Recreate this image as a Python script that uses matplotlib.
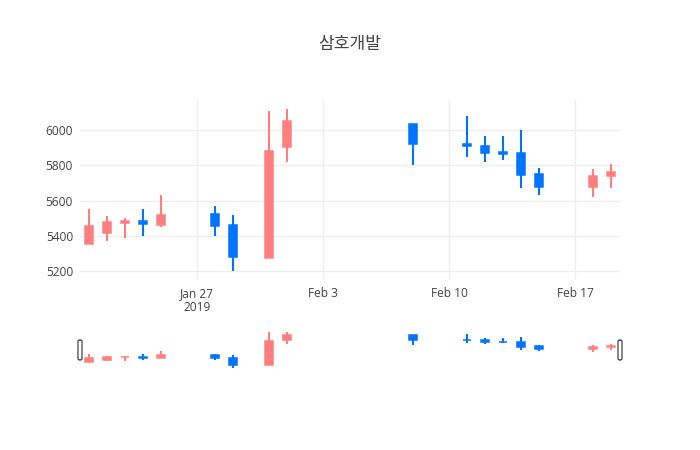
import matplotlib
matplotlib.use("Agg")
import matplotlib.pyplot as plt
import matplotlib.dates as mdates
from matplotlib.patches import FancyBboxPatch
import numpy as np
import pandas as pd

title = "삼호개발"
dates = ["2019-01-21", "2019-01-22", "2019-01-23", "2019-01-24", "2019-01-25",
         "2019-01-28", "2019-01-29", "2019-01-31", "2019-02-01", "2019-02-08",
         "2019-02-11", "2019-02-12", "2019-02-13", "2019-02-14", "2019-02-15",
         "2019-02-18", "2019-02-19"]
open_ = [5355, 5415, 5472, 5482, 5462, 5523, 5463, 5275, 5905, 6034,
         5920, 5912, 5874, 5872, 5750, 5676, 5737]
high = [5550, 5510, 5500, 5550, 5630, 5570, 5520, 6110, 6120, 6035,
        6080, 5965, 5965, 6000, 5787, 5778, 5810]
low = [5355, 5368, 5390, 5400, 5450, 5400, 5200, 5275, 5820, 5800,
       5850, 5820, 5830, 5670, 5630, 5620, 5670]
close = [5457, 5481, 5482, 5466, 5520, 5457, 5278, 5881, 6049, 5919,
         5910, 5868, 5865, 5745, 5676, 5739, 5763]
xticks = ["2019-01-27", "2019-02-03", "2019-02-10", "2019-02-17"]
xticklabels = ["Jan 27\n2019", "Feb 3", "Feb 10", "Feb 17"]
yticks = [5200, 5400, 5600, 5800, 6000]

UP = "#FF7F7F"
DOWN = "#0074FF"
W, H = 700, 450

x = mdates.date2num(pd.to_datetime(dates))
o = np.array(open_, float); c = np.array(close, float)
hi = np.array(high, float); lo = np.array(low, float)
cols = [UP if cc >= oo else DOWN for oo, cc in zip(o, c)]
xmin = mdates.date2num(pd.Timestamp("2019-01-20 12:00"))
xmax = mdates.date2num(pd.Timestamp("2019-02-19 12:00"))
pad = (hi.max() - lo.min()) * 0.055
ylo, yhi = lo.min() - pad, hi.max() + pad

plt.rcParams['font.family'] = ['Open Sans', 'DejaVu Sans']
fig = plt.figure(figsize=(7, 4.5), dpi=100)

def px(l, t, r, b):
    return [l / W, 1 - b / H, (r - l) / W, (b - t) / H]

def candles(ax, lw):
    bottom = np.minimum(o, c)
    height = np.abs(c - o)
    ax.vlines(x, lo, hi, colors=cols, linewidth=lw, zorder=2)
    ax.bar(x, height, bottom=bottom, width=0.48, color=cols, edgecolor=cols,
           linewidth=1.1, zorder=3)

ax = fig.add_axes(px(80, 100, 620, 280))
candles(ax, 1.5)
ax.set_xlim(xmin, xmax)
ax.set_ylim(ylo, yhi)
ax.set_xticks(mdates.date2num(pd.to_datetime(xticks)))
ax.set_xticklabels(xticklabels)
ax.set_yticks(yticks)
ax.set_yticklabels([str(v) for v in yticks])
ax.grid(True, color="#eeeeee", linewidth=1, zorder=0)
ax.set_axisbelow(True)
for s in ax.spines.values():
    s.set_visible(False)
ax.tick_params(length=0, labelsize=8.6, colors="#444444", pad=5)
for lab in ax.get_xticklabels():
    lab.set_linespacing(1.1)

sl = fig.add_axes(px(80, 330, 620, 370))
candles(sl, 1.5)
sl.set_xlim(xmin, xmax)
sl.set_ylim(ylo, yhi)
sl.set_xticks([]); sl.set_yticks([])
for s in sl.spines.values():
    s.set_visible(False)
sl.patch.set_alpha(0)

for hx in (80, 620):
    p = FancyBboxPatch(((hx - 2) / W, 1 - 360 / H), 4 / W, 20 / H,
                       boxstyle="round,pad=0,rounding_size=0.003",
                       transform=fig.transFigure, facecolor="white",
                       edgecolor="#444444", linewidth=0.9, zorder=10)
    fig.patches.append(p)

fig.text(350 / W, 1 - 44 / H, title, ha="center", va="center", fontsize=12.3,
         color="#444444", family=["Noto Sans CJK KR", "DejaVu Sans"])

fig.savefig("out.png", dpi=100, facecolor="white")
